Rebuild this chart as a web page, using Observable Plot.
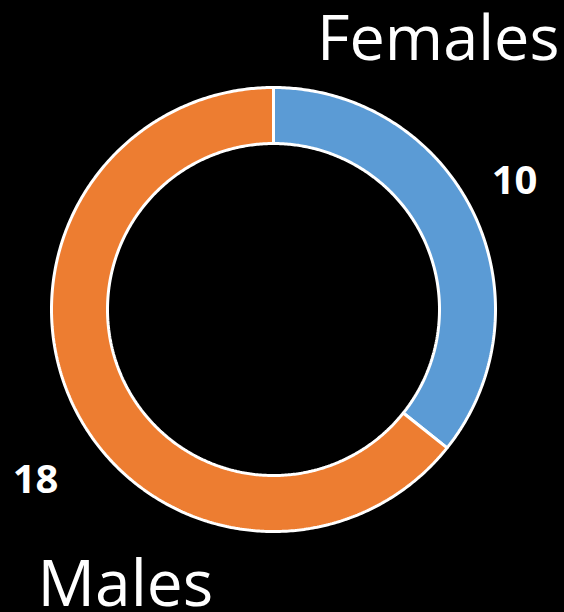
<!DOCTYPE html>
<html>
<head>
<meta charset="utf-8">
<script src="https://cdn.jsdelivr.net/npm/d3@7"></script>
<script src="https://cdn.jsdelivr.net/npm/@observablehq/plot@0.6"></script>
<style>
  html, body { margin: 0; padding: 0; background: #000; }
  #chart { width: 564px; height: 612px; }
</style>
</head>
<body>
<div id="chart"></div>
<script>
// Data
const categories = ["Females", "Males"];
const values = [10, 18];
const colors = ["#5B9BD5", "#ED7D31"];

const W = 564, H = 612;
const cx = 273, cy = 309, R = 222;   // pixel layout of the ring
const innerRatio = 166 / 222;

// Build slice polygons (in data units, radius 1 = outer edge) from pie angles
const pie = d3.pie().sort(null).value(d => d.value)
  (categories.map((c, i) => ({category: c, value: values[i]})));

const poly = [];
pie.forEach(s => {
  const n = Math.max(8, Math.ceil((s.endAngle - s.startAngle) / 0.01));
  const pts = [];
  for (let k = 0; k <= n; k++) {
    const a = s.startAngle + (s.endAngle - s.startAngle) * k / n;
    pts.push([Math.sin(a), Math.cos(a)]);
  }
  for (let k = n; k >= 0; k--) {
    const a = s.startAngle + (s.endAngle - s.startAngle) * k / n;
    pts.push([innerRatio * Math.sin(a), innerRatio * Math.cos(a)]);
  }
  pts.push(pts[0]);
  pts.forEach(([x, y]) => poly.push({category: s.data.category, x, y}));
});

const plot = Plot.plot({
  width: W,
  height: H,
  margin: 0,
  style: {background: "#000", overflow: "visible"},
  x: {domain: [-cx / R, (W - cx) / R], axis: null},
  y: {domain: [-(H - cy) / R, cy / R], axis: null},
  color: {domain: categories, range: colors},
  marks: [
    Plot.line(poly, {
      x: "x", y: "y", z: "category", fill: "category",
      stroke: "#fff", strokeWidth: 3, strokeLinejoin: "miter", curve: "linear"
    }),
    Plot.text([categories[0]], {
      text: d => d, frameAnchor: "top-right", textAnchor: "end", lineAnchor: "top",
      dx: -5, dy: 15, fill: "#fff", fontSize: 63,
      fontFamily: "Open Sans", fontWeight: 400
    }),
    Plot.text([categories[1]], {
      text: d => d, frameAnchor: "bottom-left", textAnchor: "start", lineAnchor: "top",
      dx: 37, dy: -52, fill: "#fff", fontSize: 64,
      fontFamily: "Open Sans", fontWeight: 400
    }),
    Plot.text([values[0]], {
      text: d => String(d), frameAnchor: "top-left", textAnchor: "middle", lineAnchor: "top",
      dx: 514, dy: 165, fill: "#fff", fontSize: 40,
      fontFamily: "Open Sans", fontWeight: 700
    }),
    Plot.text([values[1]], {
      text: d => String(d), frameAnchor: "top-left", textAnchor: "middle", lineAnchor: "top",
      dx: 35, dy: 464, fill: "#fff", fontSize: 40,
      fontFamily: "Open Sans", fontWeight: 700
    })
  ]
});
document.getElementById("chart").appendChild(plot);
</script>
</body>
</html>
